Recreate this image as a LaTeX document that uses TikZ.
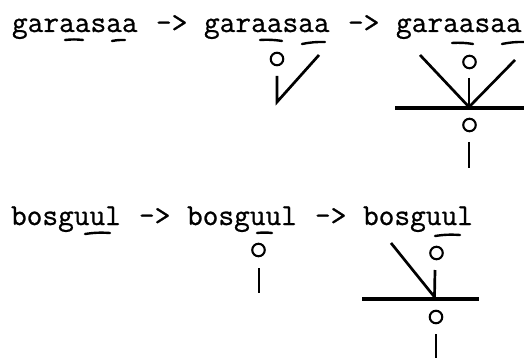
\documentclass[tikz,border=0pt]{standalone}
\usepackage{fontspec}
\setmonofont[FakeBold=0.8]{Latin Modern Mono}
\begin{document}
\begin{tikzpicture}[x=1pt,y=-1pt,
  word/.style={anchor=base west, inner sep=0pt, outer sep=0pt,
    font=\ttfamily\fontsize{30.5}{34}\selectfont},
  tie/.style={line width=2.4pt, line cap=round, bend left=6},
  ring/.style={circle, draw, line width=2.1pt, minimum size=12.5pt, inner sep=0pt},
  stem/.style={line width=2.7pt},
  bar/.style={line width=3.1pt}]
\fill[white] (0,0) rectangle (524,358);
\useasboundingbox (0,0) rectangle (524,358);

% ---- first derivation: garaasaa ----
\node[word] (g1) at (12,32) {garaasaa};
\node[word] (a1) at (156,32) {->};
\node[word] (g2) at (204,32) {garaasaa};
\node[word] (a2) at (348,32) {->};
\node[word] (g3) at (396,32) {garaasaa};

% tone marks under the vowels
\draw[tie] (65,40) to (83,40);
\draw[tie] (112,41) to (125,40);
\draw[tie] (260,40) to (282,41);
\draw[tie] (302,44) to (325,42);
\draw[tie] (452,43) to (473,44);
\draw[tie] (502,44) to (524,42);

% association lines, second step
\node[ring] (r2) at (277,59) {};
\coordinate (s2top) at (277,76);
\coordinate (s2foot) at (277,102);
\coordinate (s2arm) at (319,55);
\draw[stem, line join=miter] (s2top) -- (s2foot) -- (s2arm);

% association lines, third step
\node[ring] (r3u) at (469.5,62) {};
\node[ring] (r3l) at (469.5,125) {};
\coordinate (j3) at (469,107);
\coordinate (s3top) at (469,78);
\coordinate (l3) at (420,55);
\coordinate (rr3) at (515,60);
\coordinate (h3a) at (395,108);
\coordinate (h3b) at (524,108);
\coordinate (v3a) at (469,142);
\coordinate (v3b) at (469,168);
\draw[stem] (s3top) -- (j3);
\draw[stem] (l3) -- (j3);
\draw[stem] (rr3) -- (j3);
\draw[bar] (h3a) -- (h3b);
\draw[stem] (v3a) -- (v3b);

% ---- second derivation: bosguul ----
\node[word] (b1) at (11,225) {bosguul};
\node[word] (a3) at (139,225) {->};
\node[word] (b2) at (187,225) {bosguul};
\node[word] (a4) at (315,225) {->};
\node[word] (b3) at (363,225) {bosguul};

\draw[tie] (85,234) to (110,233);
\draw[tie] (257,233) to (272,233);
\draw[tie] (435,236) to (460,235);

% association lines, second step
\node[ring] (q2) at (258.5,250) {};
\coordinate (t2a) at (259,268);
\coordinate (t2b) at (259,293);
\draw[stem] (t2a) -- (t2b);

% association lines, third step
\node[ring] (q3u) at (436.5,253) {};
\node[ring] (q3l) at (436,317) {};
\coordinate (k3) at (434.5,297);
\coordinate (t3top) at (435,270);
\coordinate (d3) at (391,243);
\coordinate (p3a) at (362,299);
\coordinate (p3b) at (479,299);
\coordinate (w3a) at (436,334);
\coordinate (w3b) at (436,358);
\draw[stem] (t3top) -- (k3);
\draw[stem] (d3) -- (k3);
\draw[bar] (p3a) -- (p3b);
\draw[stem] (w3a) -- (w3b);
\end{tikzpicture}
\end{document}
